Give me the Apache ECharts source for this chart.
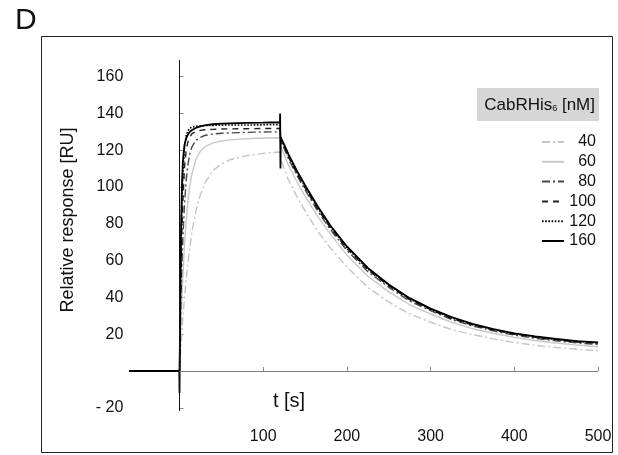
<!DOCTYPE html>
<html>
<head>
<meta charset="utf-8">
<script src="https://cdn.jsdelivr.net/npm/echarts@6/dist/echarts.min.js"></script>
<style>
html,body{margin:0;padding:0;background:#fff;}
#c{width:618px;height:455px;}
</style>
</head>
<body>
<div id="c"></div>
<script>
// ---- data ----
const concentrations = ['40', '60', '80', '100', '120', '160'];
const timesStd = [-60,0, 1,2,3,4, 6,8,10,12, 15,20,25,30, 40,50,60,80, 100,120,
  121,125,130,140, 150,165,180,200, 225,250,275,300, 325,350,375,400, 425,450,475,500];
const times160 = [-60,-0.3,0, 1,2,3,4, 6,8,10,12, 15,20,25,30, 40,50,60,80, 100,120,
  120.2,120.6,121, 125,130,140,150, 165,180,200,225, 250,275,300,325, 350,375,400,425, 450,475,500];
const r40 = [0,0, 8,15,22,29, 40,50,59,66, 76,88,96,102, 109,112.5,114.8,117, 118.3,119,
  115,110,104,95, 87,76,67,56.5, 45.5,37.5,31,26.5, 22.5,19.8,17.5,15.5, 14,12.8,11.8,11];
const r60 = [0,0, 15,29,41,51, 69,82,92,99.5, 107.5,115.5,119.5,121.8, 124,125,125.6,126.2, 126.6,126.8,
  122,117.5,112,103, 95,84,74.5,63, 51.5,43,36,31, 26.5,23,20.5,18.3, 16.6,15.2,14.1,13.2];
const r80 = [0,0, 23,43,59,72, 91,104,112,117.5, 122,125.5,127,128, 128.8,129.2,129.4,129.7, 129.9,130,
  125,121,115.5,106.5, 98.5,87,77,65.5, 54,45.5,38,32.8, 28,24.5,21.8,19.5, 17.8,16.4,15.3,14.4];
const r100 = [0,0, 34,59,78,92, 111,120,124.5,127, 129,130.3,130.8,131.1, 131.3,131.5,131.6,131.7, 131.8,131.8,
  126,122,116.5,107.5, 99.5,88,78,66.5, 55,46.3,38.8,33.3, 28.5,25,22.3,20, 18.3,16.9,15.8,14.9];
const r120 = [0,0, 44,73,93,107, 122,128,130.5,131.8, 132.6,133,133.2,133.4, 133.5,133.6,133.7,133.7, 133.8,133.8,
  126.5,122.5,117.3,108.3, 100.3,88.8,78.6,67, 55.5,46.7,39.2,33.6, 28.9,25.3,22.6,20.3, 18.6,17.2,16.1,15.2];
const r160 = [0,0,-12, 50,82,102,114, 123,126.5,128.5,129.8, 131,132.2,133,133.5, 134.1,134.4,134.6,134.9, 135,135.2,
  140,110,127, 123,118,109,101, 89.5,79.2,67.7,56, 47,39.6,33.9,29.3, 25.6,22.8,20.5,18.8, 17.4,16.3,15.6];
const yTicks = [-20, 20, 40, 60, 80, 100, 120, 140, 160];
const xTicks = [100, 200, 300, 400, 500];

// ---- build ----
const FONT = 'Liberation Sans, Arial, Helvetica, sans-serif';
function pairs(ts, vs){ return ts.map((t,i)=>[t, vs[i]]); }
const styles = {
  '40':  {color:'#c4c4c4', type:[8,3,2,3], width:1.4},
  '60':  {color:'#c8c8c8', type:'solid', width:1.4},
  '80':  {color:'#484848', type:[8,3,2,3], width:1.4},
  '100': {color:'#222222', type:[6,5], width:1.4},
  '120': {color:'#000000', type:[1.6,1.6], width:1.6},
  '160': {color:'#000000', type:'solid', width:1.8}
};
const seriesData = {
  '40': pairs(timesStd, r40), '60': pairs(timesStd, r60), '80': pairs(timesStd, r80),
  '100': pairs(timesStd, r100), '120': pairs(timesStd, r120), '160': pairs(times160, r160)
};

const series = [{
  type:'line', name:'axes', data:[], silent:true, z:1,
  markLine:{
    silent:true, symbol:['none','none'], label:{show:false}, animation:false,
    data:[
      [{coord:[0,-21.7], lineStyle:{color:'#111', width:1, type:'solid'}}, {coord:[0,169]}],
      [{coord:[0,0], lineStyle:{color:'#808080', width:1, type:'solid'}}, {coord:[500,0]}]
    ]
  }
}];
concentrations.forEach(c=>{
  series.push({
    type:'line', name:c, data:seriesData[c], showSymbol:false, symbol:'none',
    smooth:false, z:2, silent:true,
    lineStyle:{color:styles[c].color, type:styles[c].type, width:styles[c].width},
    itemStyle:{color:styles[c].color},
    emphasis:{disabled:true}
  });
});

const chart = echarts.init(document.getElementById('c'), null, {renderer:'canvas'});
chart.setOption({
  animation:false,
  backgroundColor:'#fff',
  textStyle:{fontFamily:FONT},
  grid:{left:129.3, right:20, top:58.2, bottom:43.5, containLabel:false},
  xAxis:{
    type:'value', min:-60, max:500,
    axisLine:{show:false},
    splitLine:{show:false},
    axisTick:{show:true, inside:true, length:4, customValues:xTicks, lineStyle:{color:'#888', width:1}},
    axisLabel:{show:true, customValues:xTicks, margin:17, fontSize:16, color:'#111', fontFamily:FONT}
  },
  yAxis:{
    type:'value', min:-22, max:170,
    axisLine:{show:false},
    splitLine:{show:false},
    axisTick:{show:true, inside:true, length:4, customValues:yTicks, lineStyle:{color:'#888', width:1}},
    axisLabel:{show:true, customValues:yTicks, margin:6, fontSize:16, color:'#111', fontFamily:FONT,
      formatter:v=> v<0 ? '- ' + Math.abs(v) : String(v)}
  },
  legend:{
    show:true, orient:'vertical', left:541, top:134, padding:0,
    itemWidth:22, itemHeight:18, itemGap:3.8,
    data:concentrations,
    selectedMode:false,
    itemStyle:{opacity:0, color:'rgba(0,0,0,0)', borderWidth:0, borderColor:'rgba(0,0,0,0)'},
    formatter:n=>'{a|'+n+'}',
    textStyle:{fontFamily:FONT, fontSize:16, color:'#111',
      rich:{a:{width:27, align:'right', fontSize:16, lineHeight:18, fontFamily:FONT, color:'#111'}}}
  },
  graphic:[
    {type:'rect', shape:{x:41.5, y:36.5, width:571, height:416}, style:{fill:'none', stroke:'#222', lineWidth:1}, silent:true},
    {type:'text', left:15, top:6, style:{text:'D', font:'30px '+FONT, fill:'#111'}, silent:true},
    {type:'rect', shape:{x:477, y:88, width:122, height:33}, style:{fill:'#d6d6d6'}, silent:true},
    {type:'text', x:595, y:105, style:{
      text:'CabRHis{s|6} [nM]', align:'right', verticalAlign:'middle',
      font:'17px '+FONT, fill:'#111',
      rich:{s:{fontSize:9, fontFamily:FONT, fill:'#111', padding:[7,0,0,0]}}
    }, silent:true},
    {type:'text', x:68, y:220, rotation:Math.PI/2, style:{
      text:'Relative response [RU]', align:'center', verticalAlign:'middle',
      font:'18px '+FONT, fill:'#111'}, silent:true},
    {type:'text', x:289, y:401, style:{
      text:'t [s]', align:'center', verticalAlign:'middle',
      font:'20px '+FONT, fill:'#111'}, silent:true}
  ],
  series:series
});
</script>
</body>
</html>
